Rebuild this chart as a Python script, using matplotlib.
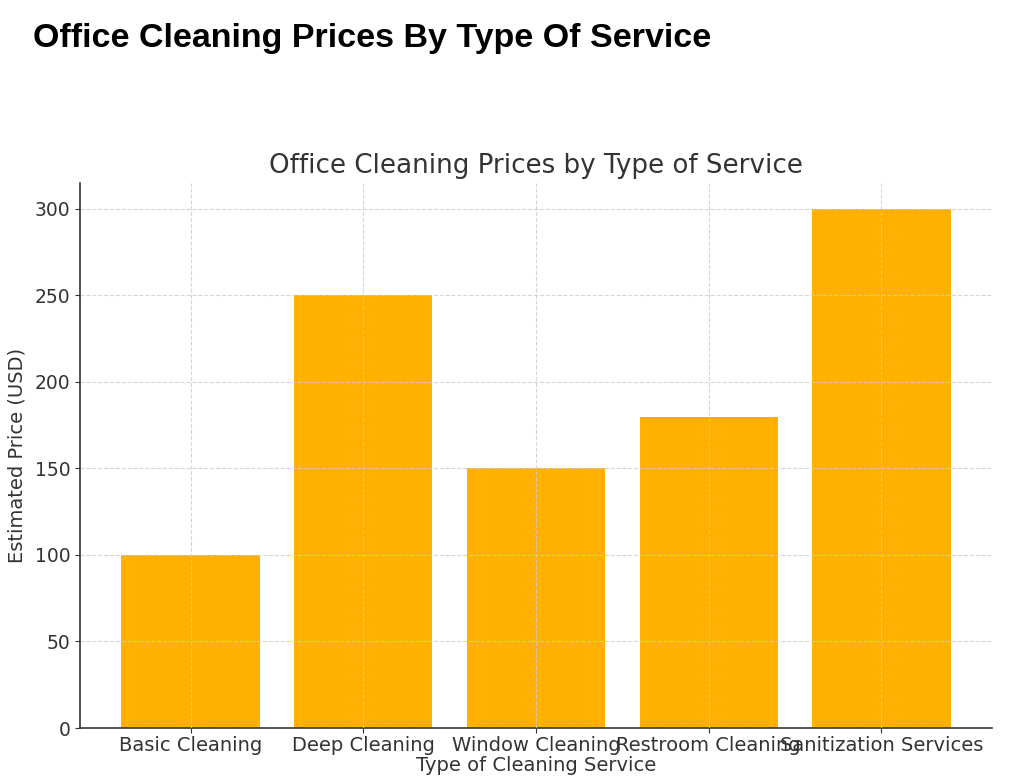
import matplotlib.pyplot as plt

# data
services = ['Basic Cleaning', 'Deep Cleaning', 'Window Cleaning', 'Restroom Cleaning', 'Sanitization Services']
prices = [100, 250, 150, 180, 300]

bar_color = '#FFB000'
txt = '#333333'

fig = plt.figure(figsize=(10.24, 7.82), dpi=100)
ax = fig.add_axes([80/1024, 1 - 728/782, (992-80)/1024, (728-183)/782])

ax.bar(services, prices, color=bar_color, width=0.8)
ax.set_axisbelow(False)
ax.grid(True, linestyle='--', color='#cccccc', linewidth=0.8, alpha=0.8)

ax.set_title('Office Cleaning Prices by Type of Service', fontsize=18.8, color=txt, pad=7)
ax.set_xlabel('Type of Cleaning Service', fontsize=14, color=txt, labelpad=1)
ax.set_ylabel('Estimated Price (USD)', fontsize=14, color=txt, labelpad=6)
ax.tick_params(axis='x', labelsize=14, colors=txt, pad=2)
ax.tick_params(axis='y', labelsize=13.5, colors=txt)
for s in ['top', 'right']:
    ax.spines[s].set_visible(False)
for s in ['left', 'bottom']:
    ax.spines[s].set_color(txt)
    ax.spines[s].set_linewidth(1.2)

# page header above the chart
fig.text(33/1024, 1 - 39/782, 'Office Cleaning Prices By Type Of Service',
         fontsize=24.5, fontweight='bold', family='Liberation Sans', va='center', color='black')

fig.savefig('out.png', dpi=100)
